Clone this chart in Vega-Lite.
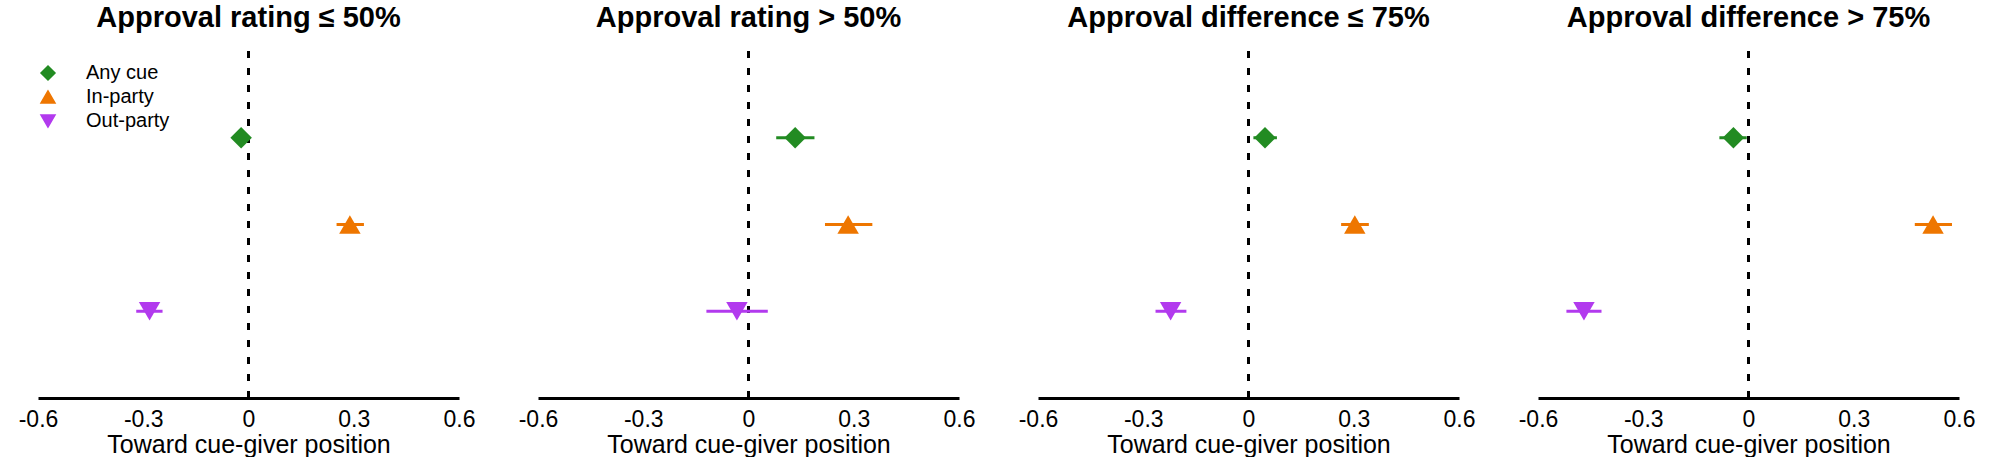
{
  "$schema": "https://vega.github.io/schema/vega-lite/v6.json",
  "padding": {"left": 18, "top": 3, "right": 5, "bottom": 0},
  "background": "white",
  "spacing": 79,
  "bounds": "flush",
  "hconcat": [
    {
      "title": "Approval rating ≤ 50%",
      "width": 421,
      "height": 347,
      "layer": [
        {
          "data": {"values": [{"ref": 0}]},
          "mark": {"type": "rule", "color": "black", "strokeWidth": 3, "strokeDash": [7, 10]},
          "encoding": {"x": {"field": "ref", "type": "quantitative", "scale": {"domain": [-0.6, 0.6], "nice": false, "zero": false},
            "axis": {"values": [-0.6, -0.3, 0, 0.3, 0.6], "labelExpr": "datum.value == 0 ? '0' : (datum.value < 0 ? '-' : '') + format(abs(datum.value), '.1f')", "title": "Toward cue-giver position", "grid": false, "ticks": false, "domainColor": "black", "domainWidth": 3, "labelFont": "Liberation Sans", "labelFontSize": 23, "labelColor": "black", "labelPadding": 10, "labelFlush": false, "titleFont": "Liberation Sans", "titleFontSize": 25, "titleFontWeight": "normal", "titleColor": "black", "titlePadding": 1}}}
        },
        {
          "data": {"values": [
            {"cue": "Any cue", "est": -0.021, "lo": -0.035, "hi": -0.007},
            {"cue": "In-party", "est": 0.289, "lo": 0.251, "hi": 0.329},
            {"cue": "Out-party", "est": -0.282, "lo": -0.32, "hi": -0.245}
          ]},
          "layer": [
            {
              "mark": {"type": "rule", "strokeWidth": 3},
              "encoding": {
                "x": {"field": "lo", "type": "quantitative"},
                "x2": {"field": "hi"},
                "y": {"field": "cue", "type": "nominal", "scale": {"type": "point", "domain": ["Any cue", "In-party", "Out-party"], "padding": 1.14}, "axis": null},
                "color": {"field": "cue", "type": "nominal", "scale": {"domain": ["Any cue", "In-party", "Out-party"], "range": ["#228B22", "#EE7600", "#B23AEE"]}}
              }
            },
            {
              "mark": {"type": "point", "filled": true, "size": 460, "opacity": 1},
              "encoding": {
                "x": {"field": "est", "type": "quantitative"},
                "y": {"field": "cue", "type": "nominal"},
                "color": {"field": "cue", "type": "nominal", "legend": {
                  "title": null, "orient": "none", "legendX": 0, "legendY": 12, "padding": 0,
                  "symbolSize": 196, "labelFont": "Liberation Sans", "labelFontSize": 20, "labelColor": "black", "labelOffset": 28, "rowPadding": 4,
                  "encode": {
                    "symbols": {
                      "shape": {"value": {"expr": "datum.value === 'Any cue' ? 'M-2.857,0L2.857,0M-0.8,0L0,-0.8L0.8,0L0,0.8Z' : datum.value === 'In-party' ? 'M-2.857,0L2.857,0M0,-0.924L0.8,0.462L-0.8,0.462Z' : 'M-2.857,0L2.857,0M0,0.924L0.8,-0.462L-0.8,-0.462Z'"}},
                      "stroke": {"value": {"expr": "scale('color', datum.value)"}},
                      "strokeWidth": {"value": 3}
                    }
                  }
                }},
                "shape": {"field": "cue", "type": "nominal", "scale": {"domain": ["Any cue", "In-party", "Out-party"], "range": ["diamond", "triangle-up", "triangle-down"]}}
              }
            }
          ]
        }
      ]
    },
    {
      "title": "Approval rating > 50%",
      "width": 421,
      "height": 347,
      "layer": [
        {
          "data": {"values": [{"ref": 0}]},
          "mark": {"type": "rule", "color": "black", "strokeWidth": 3, "strokeDash": [7, 10]},
          "encoding": {"x": {"field": "ref", "type": "quantitative", "scale": {"domain": [-0.6, 0.6], "nice": false, "zero": false},
            "axis": {"values": [-0.6, -0.3, 0, 0.3, 0.6], "labelExpr": "datum.value == 0 ? '0' : (datum.value < 0 ? '-' : '') + format(abs(datum.value), '.1f')", "title": "Toward cue-giver position", "grid": false, "ticks": false, "domainColor": "black", "domainWidth": 3, "labelFont": "Liberation Sans", "labelFontSize": 23, "labelColor": "black", "labelPadding": 10, "labelFlush": false, "titleFont": "Liberation Sans", "titleFontSize": 25, "titleFontWeight": "normal", "titleColor": "black", "titlePadding": 1}}}
        },
        {
          "data": {"values": [
            {"cue": "Any cue", "est": 0.133, "lo": 0.079, "hi": 0.188},
            {"cue": "In-party", "est": 0.284, "lo": 0.218, "hi": 0.353},
            {"cue": "Out-party", "est": -0.033, "lo": -0.12, "hi": 0.055}
          ]},
          "layer": [
            {
              "mark": {"type": "rule", "strokeWidth": 3},
              "encoding": {
                "x": {"field": "lo", "type": "quantitative"},
                "x2": {"field": "hi"},
                "y": {"field": "cue", "type": "nominal", "scale": {"type": "point", "domain": ["Any cue", "In-party", "Out-party"], "padding": 1.14}, "axis": null},
                "color": {"field": "cue", "type": "nominal"}
              }
            },
            {
              "mark": {"type": "point", "filled": true, "size": 460, "opacity": 1},
              "encoding": {
                "x": {"field": "est", "type": "quantitative"},
                "y": {"field": "cue", "type": "nominal"},
                "color": {"field": "cue", "type": "nominal"},
                "shape": {"field": "cue", "type": "nominal"}
              }
            }
          ]
        }
      ]
    },
    {
      "title": "Approval difference ≤ 75%",
      "width": 421,
      "height": 347,
      "layer": [
        {
          "data": {"values": [{"ref": 0}]},
          "mark": {"type": "rule", "color": "black", "strokeWidth": 3, "strokeDash": [7, 10]},
          "encoding": {"x": {"field": "ref", "type": "quantitative", "scale": {"domain": [-0.6, 0.6], "nice": false, "zero": false},
            "axis": {"values": [-0.6, -0.3, 0, 0.3, 0.6], "labelExpr": "datum.value == 0 ? '0' : (datum.value < 0 ? '-' : '') + format(abs(datum.value), '.1f')", "title": "Toward cue-giver position", "grid": false, "ticks": false, "domainColor": "black", "domainWidth": 3, "labelFont": "Liberation Sans", "labelFontSize": 23, "labelColor": "black", "labelPadding": 10, "labelFlush": false, "titleFont": "Liberation Sans", "titleFontSize": 25, "titleFontWeight": "normal", "titleColor": "black", "titlePadding": 1}}}
        },
        {
          "data": {"values": [
            {"cue": "Any cue", "est": 0.047, "lo": 0.014, "hi": 0.081},
            {"cue": "In-party", "est": 0.303, "lo": 0.264, "hi": 0.343},
            {"cue": "Out-party", "est": -0.222, "lo": -0.265, "hi": -0.177}
          ]},
          "layer": [
            {
              "mark": {"type": "rule", "strokeWidth": 3},
              "encoding": {
                "x": {"field": "lo", "type": "quantitative"},
                "x2": {"field": "hi"},
                "y": {"field": "cue", "type": "nominal", "scale": {"type": "point", "domain": ["Any cue", "In-party", "Out-party"], "padding": 1.14}, "axis": null},
                "color": {"field": "cue", "type": "nominal"}
              }
            },
            {
              "mark": {"type": "point", "filled": true, "size": 460, "opacity": 1},
              "encoding": {
                "x": {"field": "est", "type": "quantitative"},
                "y": {"field": "cue", "type": "nominal"},
                "color": {"field": "cue", "type": "nominal"},
                "shape": {"field": "cue", "type": "nominal"}
              }
            }
          ]
        }
      ]
    },
    {
      "title": "Approval difference > 75%",
      "width": 421,
      "height": 347,
      "layer": [
        {
          "data": {"values": [{"ref": 0}]},
          "mark": {"type": "rule", "color": "black", "strokeWidth": 3, "strokeDash": [7, 10]},
          "encoding": {"x": {"field": "ref", "type": "quantitative", "scale": {"domain": [-0.6, 0.6], "nice": false, "zero": false},
            "axis": {"values": [-0.6, -0.3, 0, 0.3, 0.6], "labelExpr": "datum.value == 0 ? '0' : (datum.value < 0 ? '-' : '') + format(abs(datum.value), '.1f')", "title": "Toward cue-giver position", "grid": false, "ticks": false, "domainColor": "black", "domainWidth": 3, "labelFont": "Liberation Sans", "labelFontSize": 23, "labelColor": "black", "labelPadding": 10, "labelFlush": false, "titleFont": "Liberation Sans", "titleFontSize": 25, "titleFontWeight": "normal", "titleColor": "black", "titlePadding": 1}}}
        },
        {
          "data": {"values": [
            {"cue": "Any cue", "est": -0.043, "lo": -0.083, "hi": -0.005},
            {"cue": "In-party", "est": 0.526, "lo": 0.474, "hi": 0.58},
            {"cue": "Out-party", "est": -0.469, "lo": -0.519, "hi": -0.419}
          ]},
          "layer": [
            {
              "mark": {"type": "rule", "strokeWidth": 3},
              "encoding": {
                "x": {"field": "lo", "type": "quantitative"},
                "x2": {"field": "hi"},
                "y": {"field": "cue", "type": "nominal", "scale": {"type": "point", "domain": ["Any cue", "In-party", "Out-party"], "padding": 1.14}, "axis": null},
                "color": {"field": "cue", "type": "nominal"}
              }
            },
            {
              "mark": {"type": "point", "filled": true, "size": 460, "opacity": 1},
              "encoding": {
                "x": {"field": "est", "type": "quantitative"},
                "y": {"field": "cue", "type": "nominal"},
                "color": {"field": "cue", "type": "nominal"},
                "shape": {"field": "cue", "type": "nominal"}
              }
            }
          ]
        }
      ]
    }
  ],
  "config": {
    "view": {"stroke": null},
    "font": "Liberation Sans",
    "title": {"font": "Liberation Sans", "fontSize": 29, "fontWeight": "bold", "color": "black", "anchor": "middle", "baseline": "alphabetic", "offset": 17},
    "legend": {"labelFont": "Liberation Sans", "labelFontSize": 20, "labelColor": "black", "symbolSize": 196}
  }
}
